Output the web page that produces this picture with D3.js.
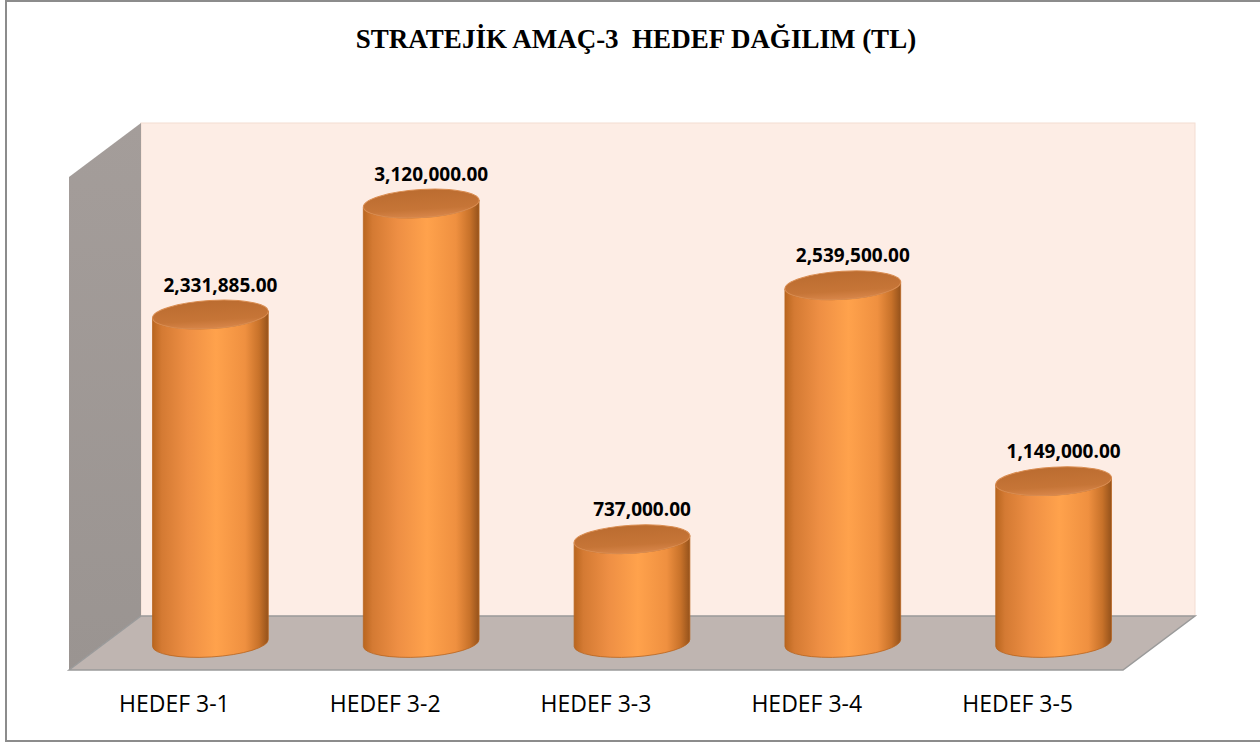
<!DOCTYPE html>
<html lang="tr">
<head>
<meta charset="UTF-8">
<script src="https://d3js.org/d3.v7.min.js"></script>
<style>
  body { margin: 0; background: #fff; }
  svg { display: block; }
  .title { font-family: "Liberation Serif", "Times New Roman", serif; font-weight: bold; font-size: 27px; white-space: pre; }
  .cat { font-family: "Open Sans", sans-serif; font-size: 23px; fill: #000; }
  .val { font-family: "Open Sans", sans-serif; font-weight: bold; font-size: 19px; fill: #000; }
</style>
</head>
<body>
<svg id="chart" width="1260" height="742"></svg>
<script>
// data
const categories = ["HEDEF 3-1", "HEDEF 3-2", "HEDEF 3-3", "HEDEF 3-4", "HEDEF 3-5"];
const values = [2331885, 3120000, 737000, 2539500, 1149000];
const titleText = "STRATEJİK AMAÇ-3  HEDEF DAĞILIM (TL)";

const svg = d3.select("#chart");
const fmt = d3.format(",.2f");

// front plane of the 3d box + depth offset
const pLeft = 69, pRight = 1123, pBottom = 670, pTop = 177;
const depthX = 72, depthY = -54;

const x = d3.scaleBand().domain(categories).range([pLeft, pRight]);
const y = d3.scaleLinear().domain([0, 3500000]).range([pBottom, pTop]);

// outer frame
svg.append("rect")
  .attr("x", 6).attr("y", 1).attr("width", 1262).attr("height", 740)
  .attr("fill", "#fff").attr("stroke", "#8c8c8c").attr("stroke-width", 2);

svg.append("text").attr("class", "title")
  .attr("x", 636).attr("y", 48).attr("text-anchor", "middle")
  .text(titleText);

const defs = svg.append("defs");
const bodyGrad = defs.append("linearGradient").attr("id", "body");
[[0, "#b9661f"], [0.08, "#d47a33"], [0.3, "#ee8f44"], [0.55, "#ffa24c"], [0.8, "#ef9040"], [0.92, "#c8722a"], [1, "#95521b"]]
  .forEach(s => bodyGrad.append("stop").attr("offset", s[0]).attr("stop-color", s[1]));
const capGrad = defs.append("linearGradient").attr("id", "cap").attr("x1", 0).attr("y1", 0).attr("x2", 0).attr("y2", 1);
[[0, "#bb6c30"], [0.7, "#c67537"], [1, "#d8864a"]]
  .forEach(s => capGrad.append("stop").attr("offset", s[0]).attr("stop-color", s[1]));
const wallGrad = defs.append("linearGradient").attr("id", "wall").attr("x1", 0).attr("y1", 0).attr("x2", 0).attr("y2", 1);
[[0, "#a49d9a"], [1, "#9a9491"]]
  .forEach(s => wallGrad.append("stop").attr("offset", s[0]).attr("stop-color", s[1]));

// back wall
svg.append("rect")
  .attr("x", pLeft + depthX).attr("y", pTop + depthY)
  .attr("width", pRight - pLeft).attr("height", pBottom - pTop)
  .attr("fill", "#fdede5").attr("stroke", "#f3ddd2").attr("stroke-width", 1);

// side wall
svg.append("path")
  .attr("d", `M${pLeft},${pTop}L${pLeft + depthX},${pTop + depthY}L${pLeft + depthX},${pBottom + depthY}L${pLeft},${pBottom}Z`)
  .attr("fill", "url(#wall)");

// floor
svg.append("path")
  .attr("d", `M${pLeft},${pBottom}L${pLeft + depthX},${pBottom + depthY}L${pRight + depthX},${pBottom + depthY}L${pRight},${pBottom}Z`)
  .attr("fill", "#bfb5b1").attr("stroke", "#9a9a9a").attr("stroke-width", 1.5);

// cylinders sit halfway into the depth
const rx = x.bandwidth() * 0.55 / 2, ry = 14, tilt = -3.5;
const t = tilt * Math.PI / 180;
const ex = rx * Math.cos(t), ey = rx * Math.sin(t);

const bars = svg.selectAll("g.bar").data(values).join("g").attr("class", "bar")
  .attr("transform", (d, i) => `translate(${x(categories[i]) + x.bandwidth() / 2 + depthX / 2},${depthY / 2})`);

bars.append("path")
  .attr("d", d => {
    const b = y(0), h = y(d);
    return `M${-ex},${h - ey}L${-ex},${b - ey}` +
      `A${rx},${ry} ${tilt} 0 0 ${ex},${b + ey}` +
      `L${ex},${h + ey}` +
      `A${rx},${ry} ${tilt} 0 1 ${-ex},${h - ey}Z`;
  })
  .attr("fill", "url(#body)").attr("stroke", "#b8651f").attr("stroke-width", 0.8);

bars.append("ellipse")
  .attr("cx", 0).attr("cy", d => y(d))
  .attr("rx", rx).attr("ry", ry)
  .attr("transform", d => `rotate(${tilt},0,${y(d)})`)
  .attr("fill", "url(#cap)").attr("stroke", "#d98c50").attr("stroke-width", 1);

bars.append("text").attr("class", "val")
  .attr("x", 10).attr("y", d => y(d) - 23)
  .attr("text-anchor", "middle")
  .text(d => fmt(d));

// category labels under the front edge
svg.selectAll("text.cat").data(categories).join("text").attr("class", "cat")
  .attr("x", d => x(d) + x.bandwidth() / 2)
  .attr("y", 712)
  .attr("text-anchor", "middle")
  .text(d => d);
</script>
</body>
</html>
